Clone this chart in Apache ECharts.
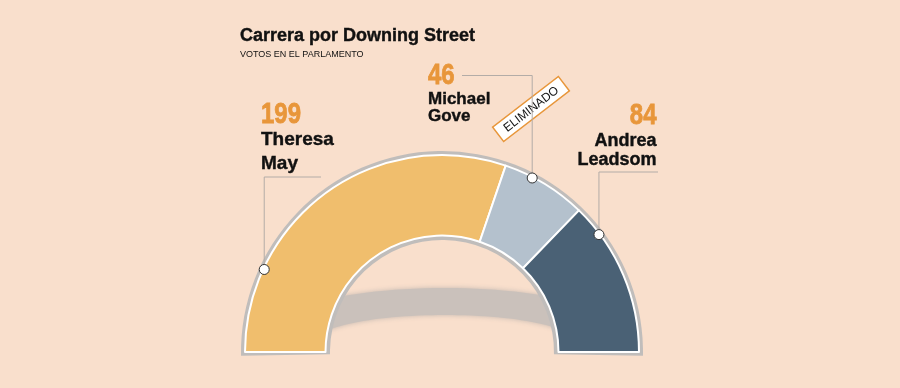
<!DOCTYPE html>
<html>
<head>
<meta charset="utf-8">
<script src="https://cdn.jsdelivr.net/npm/echarts@6/dist/echarts.min.js"></script>
<style>
html,body{margin:0;padding:0;background:#f9dfcc;}
#chart{width:900px;height:388px;}
</style>
</head>
<body>
<div id="chart"></div>
<script>
// ---- data ----
const titleText = 'Carrera por Downing Street';
const subtitleText = 'VOTOS EN EL PARLAMENTO';
const candidates = ['Theresa May', 'Michael Gove', 'Andrea Leadsom'];
const firstNames = ['Theresa', 'Michael', 'Andrea'];
const lastNames = ['May', 'Gove', 'Leadsom'];
const votes = [199, 46, 84];
const eliminatedTag = 'ELIMINADO';

// ---- styles / layout ----
const colors = ['#f0be6d', '#b4c1cd', '#4a6175'];
const orange = '#e8963a';
const center = [442, 352];
const markerAngles = [155.1, 62.6, 36.8];   // degrees, anchor points on the arc
const labelLayout = [
  {x: 261, align: 'left',  numY: 115,  n1Y: 140, n2Y: 163.5, nameSize: 19, elbowY: 177, endX: 321},
  {x: 428, align: 'left',  numY: 75.5, n1Y: 99,  n2Y: 116,   nameSize: 17, elbowY: 75.5, endX: 462},
  {x: 656.5, align: 'right', numY: 116, n1Y: 141, n2Y: 160,   nameSize: 18, elbowY: 172, endX: 658}
];

const chart = echarts.init(document.getElementById('chart'), null, {renderer: 'canvas'});

const textFont = "'Liberation Sans', Arial, sans-serif";

// ground shadow outline (decorative): upper half of an elliptical band
function shadowPoints() {
  const cx = 445, cy = 342, ro = [194, 54], ri = [130, 27];
  const pts = [];
  const n = 60;
  for (let k = 0; k <= n; k++) {
    const t = Math.PI + Math.PI * k / n;
    pts.push([cx + ro[0] * Math.cos(t), cy + ro[1] * Math.sin(t)]);
  }
  for (let k = n; k >= 0; k--) {
    const t = Math.PI + Math.PI * k / n;
    pts.push([cx + ri[0] * Math.cos(t), cy + ri[1] * Math.sin(t)]);
  }
  return pts;
}

const graphics = [
  {
    type: 'polygon', z: -10, silent: true,
    shape: {points: shadowPoints()},
    style: {fill: '#cac1bb', shadowBlur: 5, shadowColor: 'rgba(190,180,174,0.9)'}
  },
  {type: 'text', x: 240, y: 36, style: {text: titleText, font: "bold 18px " + textFont, fill: '#111', verticalAlign: 'middle', stroke: '#111', lineWidth: 0.4}},
  {type: 'text', x: 240, y: 55, style: {text: subtitleText, font: "9px " + textFont, fill: '#111', verticalAlign: 'middle'}},
  {
    type: 'group', x: 531, y: 109, rotation: 37.6 * Math.PI / 180, z: 10,
    children: [
      {type: 'rect', shape: {x: -41.5, y: -9, width: 83, height: 18}, style: {fill: '#fff', stroke: orange, lineWidth: 1.5}},
      {type: 'text', x: 0, y: 0.5, style: {text: eliminatedTag, font: "12px " + textFont, fill: '#111', align: 'center', verticalAlign: 'middle'}}
    ]
  }
];
votes.forEach((v, i) => {
  const L = labelLayout[i];
  graphics.push({
    type: 'text', x: L.x, y: L.numY, scaleX: 0.8,
    style: {text: String(v), font: "bold 30px " + textFont, fill: orange, stroke: orange, lineWidth: 0.8, align: L.align, verticalAlign: 'middle'}
  });
  graphics.push({type: 'text', x: L.x, y: L.n1Y, style: {text: firstNames[i], font: "bold " + L.nameSize + "px " + textFont, fill: '#111', stroke: '#111', lineWidth: 0.4, align: L.align, verticalAlign: 'middle'}});
  graphics.push({type: 'text', x: L.x, y: L.n2Y, style: {text: lastNames[i], font: "bold " + L.nameSize + "px " + textFont, fill: '#111', stroke: '#111', lineWidth: 0.4, align: L.align, verticalAlign: 'middle'}});
});

const option = {
  backgroundColor: '#f9dfcc',
  animation: false,
  polar: {center: center, radius: 196},
  angleAxis: {type: 'value', min: 0, max: 360, startAngle: 0, clockwise: false, show: false},
  radiusAxis: {type: 'value', min: 0, max: 1, show: false},
  graphic: {elements: graphics},
  series: [
    {
      type: 'pie', z: 1, silent: true,
      center: center, radius: [112, 201],
      startAngle: 181.1, endAngle: -1.1,
      label: {show: false}, labelLine: {show: false},
      itemStyle: {color: '#c0bdbb'},
      data: [{value: 1, name: 'frame'}]
    },
    {
      type: 'pie', z: 2, silent: true,
      center: center, radius: [116.5, 197],
      startAngle: 180, endAngle: 0, clockwise: true,
      label: {show: false}, labelLine: {show: false},
      itemStyle: {borderColor: '#fff', borderWidth: 2},
      data: votes.map((v, i) => ({value: v, name: candidates[i], itemStyle: {color: colors[i]}}))
    },
    {
      type: 'custom', coordinateSystem: 'polar', z: 3, silent: true,
      data: markerAngles.map(a => [1, a]),
      renderItem: function (params, api) {
        const p = api.coord([api.value(0), api.value(1)]);
        const L = labelLayout[params.dataIndex];
        return {
          type: 'polyline',
          shape: {points: [[p[0], p[1]], [p[0], L.elbowY], [L.endX, L.elbowY]]},
          style: {stroke: '#b3aca7', lineWidth: 1, fill: null}
        };
      }
    },
    {
      type: 'scatter', coordinateSystem: 'polar', z: 4, silent: true,
      symbol: 'circle', symbolSize: 10,
      itemStyle: {color: '#fff', borderColor: '#333', borderWidth: 1, opacity: 1},
      data: markerAngles.map(a => [1, a])
    }
  ]
};
chart.setOption(option);
</script>
</body>
</html>
